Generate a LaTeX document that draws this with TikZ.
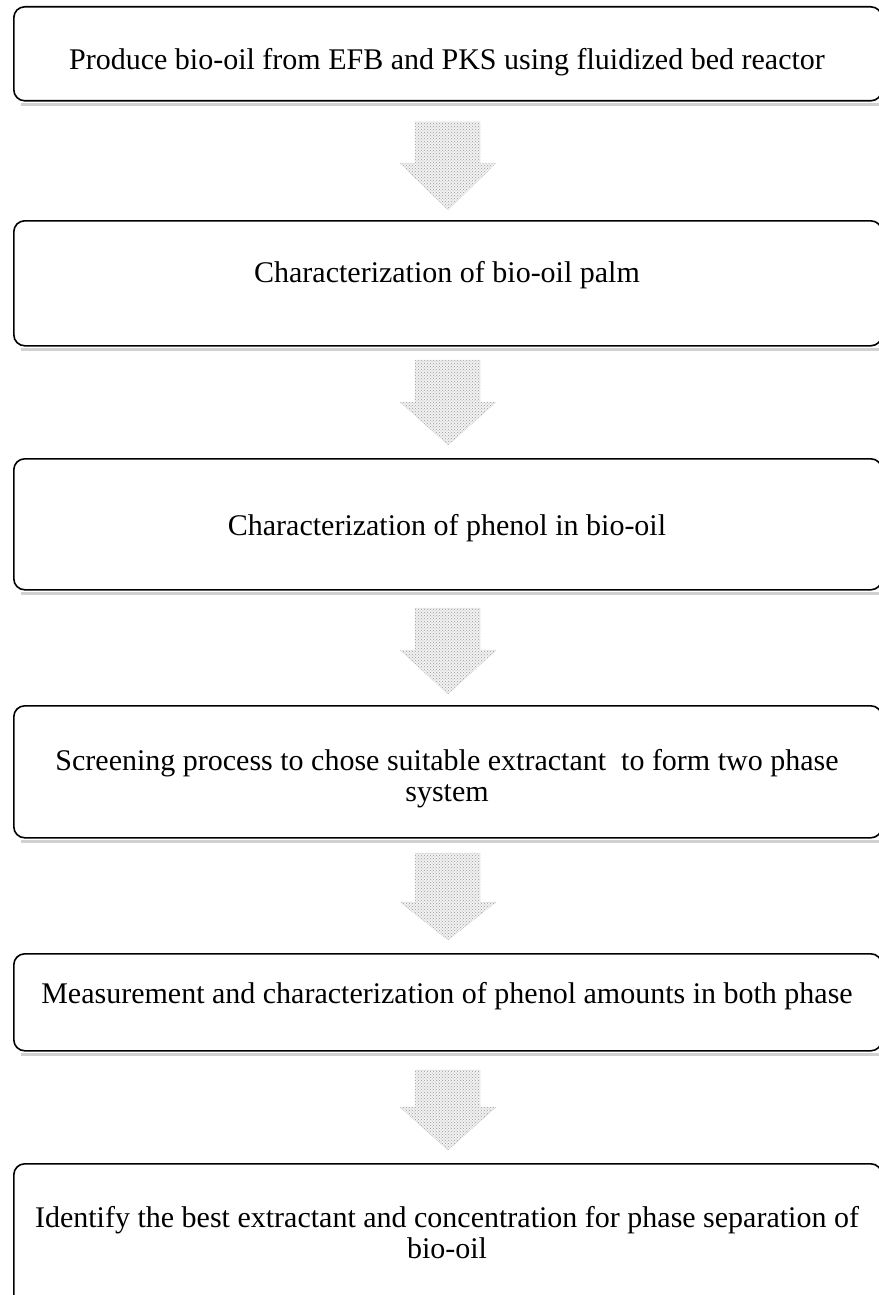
\documentclass[tikz,border=0pt]{standalone}
\usepackage{fontspec}
\setmainfont{Liberation Serif}
\usetikzlibrary{patterns}
\begin{document}
\begin{tikzpicture}[x=1pt,y=-1pt,
  stepbox/.style={draw=black,line width=1.6pt,rounded corners=11pt,inner sep=0pt,minimum width=868pt,anchor=north west},
  steptext/.style={font=\fontsize{30}{31}\selectfont,align=center,inner sep=0pt},
  shadowline/.style={draw=black!18,line width=2.5pt},
  flow/.style={preaction={fill=black!5},pattern=crosshatch dots,pattern color=black!40,draw=black!25,line width=0.5pt,densely dotted}]
\useasboundingbox (0,0) rectangle (878,1295);
% boxes
\node[stepbox,minimum height=94pt]  (b1) at (13,6) {};
\node[stepbox,minimum height=125pt] (b2) at (13,220) {};
\node[stepbox,minimum height=131pt] (b3) at (13,458) {};
\node[stepbox,minimum height=132pt] (b4) at (13,705) {};
\node[stepbox,minimum height=97pt]  (b5) at (13,953) {};
\node[stepbox,minimum height=170pt] (b6) at (13,1163) {};
% shadows under boxes
\foreach \b in {b1,b2,b3,b4,b5}{
  \draw[shadowline] ([xshift=8pt,yshift=-3pt]\b.south west) -- ([yshift=-3pt]\b.south east);
}
% texts
\node[steptext] (t1) at (447,62) {Produce bio-oil from EFB and PKS using fluidized bed reactor};
\node[steptext] (t2) at (447,275) {Characterization of bio-oil palm};
\node[steptext] (t3) at (447,528) {Characterization of phenol in bio-oil};
\node[steptext] (t4) at (447,779) {Screening process to chose suitable extractant~ to form two phase\\system};
\node[steptext] (t5) at (447,996) {Measurement and characterization of phenol amounts in both phase};
\node[steptext] (t6) at (447,1233) {Identify the best extractant and concentration for phase separation of\\bio-oil};
% block arrows
\newcommand\flowarrow[3]{%
  \path[flow] (415,#1) -- (480,#1) -- (480,#2) -- (496,#2) -- (448,#3) -- (400,#2) -- (415,#2) -- cycle;}
\flowarrow{122}{163}{210}
\flowarrow{360}{402}{445}
\flowarrow{608}{650}{694}
\flowarrow{853}{902}{940}
\flowarrow{1070}{1107}{1150}
\end{tikzpicture}
\end{document}
